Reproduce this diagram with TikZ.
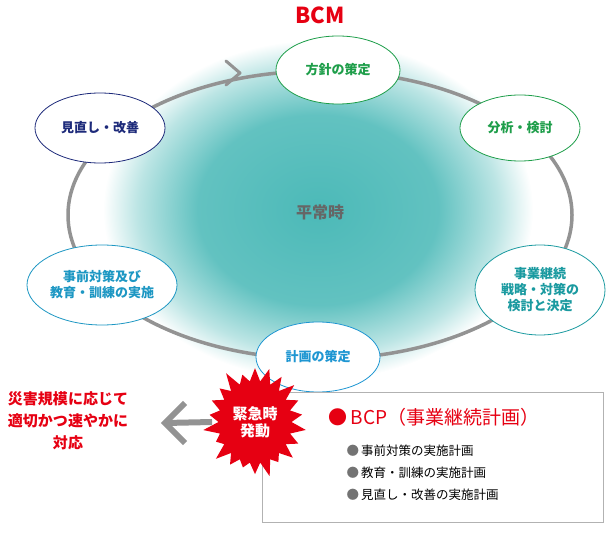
\documentclass[tikz,border=0pt]{standalone}
\usepackage{fontspec}
\setmainfont{Noto Sans CJK JP}
\usetikzlibrary{shapes.geometric,shapes.symbols,positioning}
\definecolor{bcmred}{HTML}{E60012}
\definecolor{stepgreen}{HTML}{1E9E4A}
\definecolor{stepteal}{HTML}{1A9AA0}
\definecolor{stepblue}{HTML}{1E96D2}
\definecolor{stepnavy}{HTML}{1D2A7A}
\definecolor{glowteal}{HTML}{1FA8A6}
\pgfdeclareradialshading{glow}{\pgfpoint{0bp}{0bp}}{%
  color(0bp)=(glowteal!80);color(14bp)=(glowteal!70);color(21bp)=(glowteal!30);
  color(25bp)=(white);color(50bp)=(white)}
\tikzset{
  step/.style={ellipse,draw=#1,text=#1,fill=white,thick,align=center,
    font=\bfseries\fontsize{13}{16}\selectfont,inner sep=1pt},
  item/.style={font=\fontsize{12.5}{14}\selectfont,anchor=west},
}
\begin{document}
\begin{tikzpicture}[x=1pt,y=-1pt]
  \useasboundingbox (0,0) rectangle (613,537);
  % glow and cycle
  \shade[shading=glow] (318,210) ellipse [x radius=215,y radius=170];
  \draw[line width=3.5pt,gray!85] (320,215) ellipse [x radius=252,y radius=144];
  \draw[line width=3pt,gray!85,line cap=round,line join=round] (226,61) -- (240,73) -- (226,85);
  \node[font=\bfseries\fontsize{16}{18}\selectfont,text=gray!80!black] (normal) at (320,212) {平常時};
  \node[font=\bfseries\fontsize{22}{24}\selectfont,text=bcmred] (bcm) at (320,15) {BCM};
  % steps of the cycle
  \node[step=stepgreen,minimum width=124pt,minimum height=68pt] (policy) at (338,70) {方針の策定};
  \node[step=stepgreen,minimum width=120pt,minimum height=66pt] (analysis) at (520,128) {分析・検討};
  \node[step=stepteal,minimum width=130pt,minimum height=90pt] (strategy) at (540,290) {事業継続\\戦略・対策の\\検討と決定};
  \node[step=stepblue,minimum width=124pt,minimum height=70pt] (plan) at (318,357) {計画の策定};
  \node[step=stepblue!70!stepteal,minimum width=150pt,minimum height=80pt] (practice) at (102,285) {事前対策及び\\教育・訓練の実施};
  \node[step=stepnavy,minimum width=130pt,minimum height=70pt] (review) at (100,128) {見直し・改善};
  % emergency
  \draw[gray!60] (262,392) rectangle (603,522);
  \node[starburst,starburst points=22,starburst point height=18pt,fill=bcmred,
    minimum width=100pt,minimum height=118pt,text=white,align=center,
    font=\bfseries\fontsize{15}{17}\selectfont] (burst) at (255,422) {緊急時\\発動};
  \coordinate (arrowtip) at (165,423);
  \draw[line width=6pt,gray!85] (burst.west) ++(-6,0) -- (arrowtip);
  \draw[line width=6pt,gray!85,line join=miter] (arrowtip) ++(20,-20) -- (arrowtip) -- ++(20,20);
  \node[text=bcmred,align=center,font=\bfseries\fontsize{15}{22}\selectfont] (respond) at (68,421) {災害規模に応じて\\適切かつ速やかに\\対応};
  \node[text=bcmred,anchor=west,font=\fontsize{19}{21}\selectfont] (bcp) at (325,417) {●\,BCP（事業継続計画）};
  \node[item] (pre) at (343,451) {\textcolor{gray!90!black}{●}\,事前対策の実施計画};
  \node[item,below=3pt of pre.south west,anchor=north west] (train) {\textcolor{gray!90!black}{●}\,教育・訓練の実施計画};
  \node[item,below=3pt of train.south west,anchor=north west] (improve) {\textcolor{gray!90!black}{●}\,見直し・改善の実施計画};
\end{tikzpicture}
\end{document}
